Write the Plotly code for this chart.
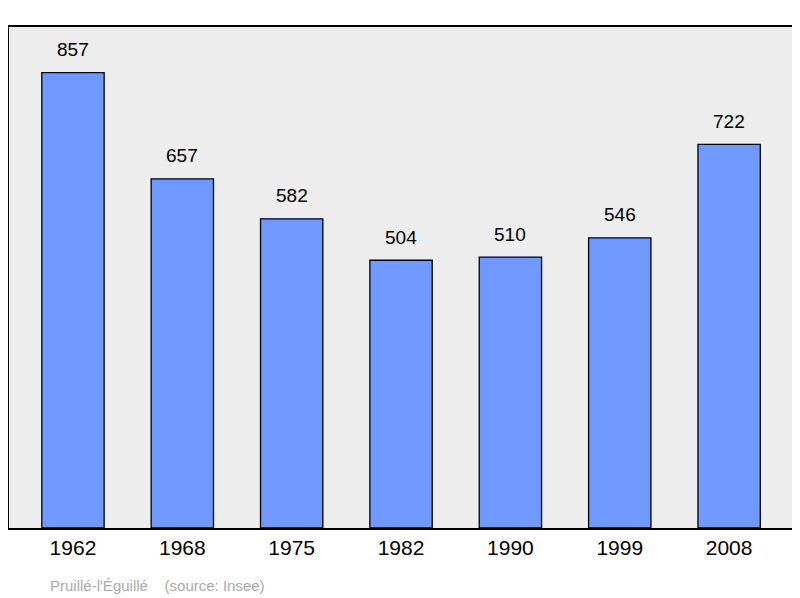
import plotly.graph_objects as go

years = ["1962", "1968", "1975", "1982", "1990", "1999", "2008"]
population = [857, 657, 582, 504, 510, 546, 722]

xs = list(range(len(years)))
fig = go.Figure(go.Bar(
    x=xs, y=population, width=0.57,
    marker=dict(color="#7099ff", line=dict(color="black", width=1.3)),
))
anns = [dict(x=x, y=v, xref="x", yref="y", text=str(v), showarrow=False,
             yanchor="middle", yshift=23,
             font=dict(family="Liberation Sans", size=19, color="black"))
        for x, v in zip(xs, population)]
anns.append(dict(text="Pruillé-l'Éguillé &nbsp;&nbsp;&nbsp;(source: Insee)",
                 x=(48 - 9) / 783, y=-(585 - 528) / 501, xref="paper", yref="paper",
                 showarrow=False, xanchor="left", yanchor="middle",
                 font=dict(family="Liberation Sans", size=15, color="#aaaaaa")))
fig.update_layout(
    width=800, height=598,
    margin=dict(l=1, r=16, t=19, b=78),
    paper_bgcolor="white", plot_bgcolor="#ededed",
    showlegend=False,
    xaxis=dict(range=[-0.585, 6.575], tickvals=xs, ticktext=years,
               showgrid=False, zeroline=False, showline=True, mirror=True,
               linecolor="black", linewidth=2, ticks="",
               tickfont=dict(family="Liberation Sans", size=21, color="black")),
    yaxis=dict(range=[0, 943], showticklabels=False, showgrid=False, zeroline=False,
               showline=True, mirror=True, linecolor="black", linewidth=2, ticks=""),
    annotations=anns,
)
fig.write_html("out.html")
